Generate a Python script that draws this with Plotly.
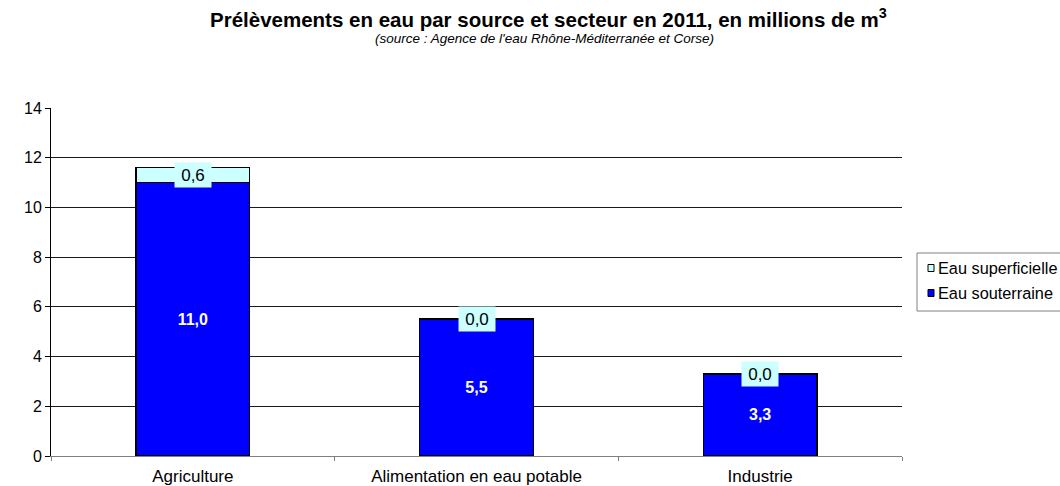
import plotly.graph_objects as go

categories = ["Agriculture", "Alimentation en eau potable", "Industrie"]
souterraine = [11.0, 5.5, 3.3]
superficielle = [0.6, 0.02, 0.02]
y_ticks = [0, 2, 4, 6, 8, 10, 12, 14]
series_names = ["Eau superficielle", "Eau souterraine"]
series_colors = ["#CCFFFF", "#0000FF"]

FONT = "Liberation Sans, Arial, sans-serif"

# plot area in pixels
L, R, T, B = 51, 902, 108, 456
W, H = R - L, B - T


def px_x(p):
    return (p - L) / W


def px_y(p):
    return (B - p) / H


def fr(v):
    return f"{v:.1f}".replace(".", ",")


fig = go.Figure()

fig.add_trace(go.Bar(
    x=categories, y=souterraine, name=series_names[1],
    marker=dict(color=series_colors[1], line=dict(color="#000000", width=1.3)),
    text=[fr(v) for v in souterraine], textposition="inside",
    insidetextanchor="middle",
    textfont=dict(family=FONT, size=16, color="white", weight="bold"),
    width=0.4, showlegend=False,
))
fig.add_trace(go.Bar(
    x=categories, y=superficielle, name=series_names[0],
    marker=dict(color=series_colors[0], line=dict(color="#000000", width=1.3)),
    width=0.4, showlegend=False,
))

# value labels for surface water, centred on their segment with a cyan box
for c, b, v in zip(categories, souterraine, superficielle):
    fig.add_annotation(
        x=c, y=b + v / 2, text=fr(v), showarrow=False,
        bgcolor="#CCFFFF", borderpad=0, width=36, height=24,
        font=dict(family=FONT, size=17, color="black"),
        xref="x", yref="y",
    )

fig.update_layout(
    barmode="stack",
    width=1060, height=486,
    margin=dict(l=L, r=1060 - R, t=T, b=486 - B),
    paper_bgcolor="white", plot_bgcolor="white",
    font=dict(family=FONT, size=15, color="black"),
    showlegend=False,
    bargap=0.6,
)

# legend box drawn by hand so it can run past the page edge
fig.add_shape(
    type="rect", xref="paper", yref="paper",
    x0=px_x(917), x1=px_x(1064), y0=px_y(311), y1=px_y(253),
    line=dict(color="#808080", width=1), fillcolor="white",
)
for i, (name, col) in enumerate(zip(series_names, series_colors)):
    cy = 268 + i * 25
    fig.add_shape(
        type="rect", xref="paper", yref="paper",
        x0=px_x(928), x1=px_x(934), y0=px_y(cy + 3.5), y1=px_y(cy - 3.5),
        line=dict(color="#000000", width=1), fillcolor=col,
    )
    fig.add_annotation(
        text=name, xref="paper", yref="paper",
        x=px_x(936), y=px_y(cy), xanchor="left", yanchor="middle",
        showarrow=False, font=dict(family=FONT, size=16.3, color="black"),
    )

fig.add_annotation(
    text="<b>Prélèvements en eau par source et secteur en 2011, en millions de m<sup>3</sup></b>",
    xref="paper", yref="paper", x=px_x(548), y=px_y(18),
    showarrow=False, font=dict(family=FONT, size=20.5, color="black"),
    xanchor="center", yanchor="middle",
)
fig.add_annotation(
    text="<i>(source : Agence de l'eau Rhône-Méditerranée et Corse)</i>",
    xref="paper", yref="paper", x=px_x(544), y=px_y(38),
    showarrow=False, font=dict(family=FONT, size=13.5, color="black"),
    xanchor="center", yanchor="middle",
)

fig.update_xaxes(
    showline=True, linecolor="#808080", linewidth=1,
    ticks="outside", tickson="boundaries", ticklen=4, tickcolor="#808080",
    showgrid=False, tickfont=dict(family=FONT, size=17),
    ticklabelstandoff=5, automargin=False,
)
fig.update_yaxes(
    range=[0, 14], tickvals=y_ticks,
    showline=True, linecolor="#000000", linewidth=1,
    ticks="outside", ticklen=5, tickcolor="#000000",
    showgrid=True, gridcolor="#1a1a1a", gridwidth=1,
    zeroline=False, tickfont=dict(family=FONT, size=16),
    automargin=False,
)

fig.write_html("out.html")
